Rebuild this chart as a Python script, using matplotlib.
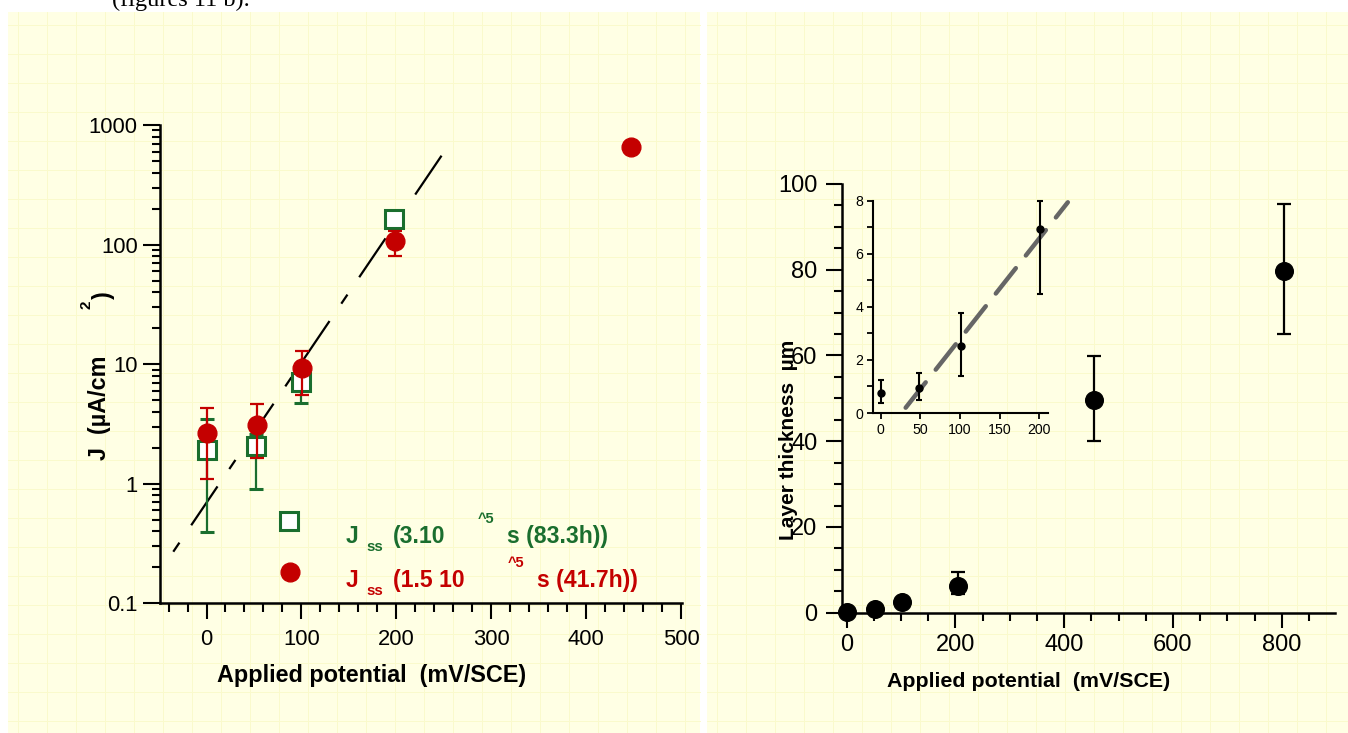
import numpy as np
import matplotlib
matplotlib.use("Agg")
import matplotlib.pyplot as plt
from matplotlib.ticker import MultipleLocator, LogLocator, NullFormatter

plt.rcParams['font.family'] = ['Liberation Sans', 'DejaVu Sans']

W, H = 1348, 733

# ---- left panel data: J vs applied potential ----
green_x = [0, 52, 100, 198]
green_y = [1.91, 2.07, 7.1, 163]
green_lo = [0.394, 0.90, 4.73, 150]
green_hi = [3.47, 2.6, 8.0, 175]

red_x = [0, 53, 101, 199, 447]
red_y = [2.65, 3.1, 9.27, 107, 653]
red_lo = [1.09, 1.64, 5.52, 80, 653]
red_hi = [4.3, 4.64, 12.9, 130, 653]

fit_x = [-35, 253]
fit_y = [0.27, 640]

# ---- right panel data: layer thickness ----
thick_x = [1, 52, 101, 205, 455, 805]
thick_y = [0.2, 0.8, 2.5, 6.2, 49.5, 79.8]
thick_lo = [0.2, 0.8, 2.5, 4.4, 40.1, 64.9]
thick_hi = [0.2, 0.8, 2.5, 9.4, 59.9, 95.3]

inset_x = [0, 48, 101, 201]
inset_y = [0.74, 0.93, 2.54, 6.94]
inset_lo = [0.39, 0.49, 1.4, 4.48]
inset_hi = [1.25, 1.52, 3.76, 8.0]

inset_fit_x = [31.5, 236]
inset_fit_y = [0.2, 7.94]

GREEN = '#1a6e2e'
RED = '#c40000'
BG = '#ffffe4'


def px(x, y):
    return x / W, 1 - y / H


def box(l, t, r, b):
    return [l / W, 1 - b / H, (r - l) / W, (b - t) / H]


fig = plt.figure(figsize=(W / 100, H / 100), dpi=100, facecolor='white')

# background panels with faint grid texture
bg = fig.add_axes([0, 0, 1, 1], zorder=-10)
bg.set_xlim(0, W)
bg.set_ylim(H, 0)
bg.axis('off')
for (l, r) in [(8, 700), (707, 1348)]:
    bg.add_patch(plt.Rectangle((l, 12), r - l, H - 12, facecolor=BG, edgecolor='none'))
    for gx in np.arange(l + 10, r, 29):
        bg.plot([gx, gx], [12, H], color='#fafacc', lw=0.7)
    for gy in np.arange(25, H, 29):
        bg.plot([l, r], [gy, gy], color='#fafacc', lw=0.7)

# caption line from the page above, cut by the crop
fig.text(*px(112, 6), "(figures 11 b).", family='Liberation Serif', fontsize=17.5,
         ha='left', va='baseline')


def style_axes(ax, lw=1.8):
    for s in ['top', 'right']:
        ax.spines[s].set_visible(False)
    for s in ['left', 'bottom']:
        ax.spines[s].set_linewidth(lw)
    ax.patch.set_alpha(0)


# ---------------- left panel ----------------
ax1 = fig.add_axes(box(160, 125, 682, 603.3))
style_axes(ax1)
ax1.set_yscale('log')
ax1.set_xlim(-49, 501)
ax1.set_ylim(0.1, 1000)

ax1.plot(fit_x, fit_y, color='black', lw=1.6,
         linestyle=(0, (7.9 / 1.6, 15.1 / 1.6, 33.8 / 1.6, 15.1 / 1.6)), zorder=2)

gy = np.array(green_y)
ax1.errorbar(green_x, green_y,
             yerr=[gy - np.array(green_lo), np.array(green_hi) - gy],
             fmt='s', ms=12.5, mfc='white', mec=GREEN, mew=2.2, ecolor=GREEN,
             elinewidth=1.6, capsize=4.7, capthick=1.6, zorder=3)
ry = np.array(red_y)
ax1.errorbar(red_x, red_y,
             yerr=[ry - np.array(red_lo), np.array(red_hi) - ry],
             fmt='o', ms=13.5, mfc=RED, mec=RED, ecolor=RED,
             elinewidth=1.6, capsize=4.7, capthick=1.6, zorder=4)

ax1.xaxis.set_major_locator(MultipleLocator(100))
ax1.xaxis.set_minor_locator(MultipleLocator(20))
ax1.yaxis.set_minor_locator(LogLocator(base=10, subs=np.arange(2, 10), numticks=10))
ax1.yaxis.set_minor_formatter(NullFormatter())
ax1.set_yticks([0.1, 1, 10, 100, 1000])
ax1.set_yticklabels(['0.1', '1', '10', '100', '1000'])
ax1.tick_params(axis='both', which='major', direction='out', width=1.5, labelsize=15.8)
ax1.tick_params(axis='y', which='major', length=12, pad=4)
ax1.tick_params(axis='y', which='minor', length=6, width=1.5, direction='out')
ax1.tick_params(axis='x', which='major', length=11.5, pad=7)
ax1.tick_params(axis='x', which='minor', length=6.5, width=1.5, direction='out')

fig.text(*px(372, 681.7), "Applied potential  (mV/SCE)", fontsize=16.8,
         fontweight='bold', ha='center', va='baseline')
fig.text(*px(100, 407.5), "J  (\u00b5A/cm", fontsize=16.8, fontweight='bold',
         rotation=90, ha='center', va='center')
fig.text(*px(87, 305), "2", fontsize=11, fontweight='bold',
         rotation=90, ha='center', va='center')
fig.text(*px(103, 295), ")", fontsize=16.8, fontweight='bold',
         rotation=90, ha='center', va='center')

# legend markers and labels
ax1.plot([0.247], [0.172], 's', ms=12.5, mfc='white', mec=GREEN, mew=2.2,
         transform=ax1.transAxes, clip_on=False)
ax1.plot([0.249], [0.0654], 'o', ms=13.5, mfc=RED, mec=RED,
         transform=ax1.transAxes, clip_on=False)

legend_rows = [
    (GREEN, 543, "(3.10", 478, "s (83.3h))", 506.7),
    (RED, 586.7, "(1.5 10", 508, "s (41.7h))", 536.7),
]
for col, base, mid, sup_x, tail, tail_x in legend_rows:
    fig.text(*px(346, base), "J", color=col, fontsize=16.6, fontweight='bold',
             ha='left', va='baseline')
    fig.text(*px(366, base + 8), "ss", color=col, fontsize=10.8, fontweight='bold',
             ha='left', va='baseline')
    fig.text(*px(393, base), mid, color=col, fontsize=16.6, fontweight='bold',
             ha='left', va='baseline')
    fig.text(*px(sup_x, base - 20), "^5", color=col, fontsize=10.5, fontweight='bold',
             ha='left', va='baseline')
    fig.text(*px(tail_x, base), tail, color=col, fontsize=16.6, fontweight='bold',
             ha='left', va='baseline')

# ---------------- right panel ----------------
ax2 = fig.add_axes(box(841.7, 184, 1335, 612.7))
style_axes(ax2)
ax2.set_xlim(-9, 898)
ax2.set_ylim(0, 100)

ty = np.array(thick_y)
ax2.errorbar(thick_x, thick_y,
             yerr=[ty - np.array(thick_lo), np.array(thick_hi) - ty],
             fmt='o', ms=12.7, color='black', elinewidth=1.6,
             capsize=4.7, capthick=1.6, clip_on=False, zorder=4)

ax2.xaxis.set_major_locator(MultipleLocator(200))
ax2.xaxis.set_minor_locator(MultipleLocator(50))
ax2.yaxis.set_major_locator(MultipleLocator(20))
ax2.yaxis.set_minor_locator(MultipleLocator(5))
ax2.tick_params(axis='both', which='major', direction='out', width=1.5, labelsize=17)
ax2.tick_params(axis='y', which='major', length=11.5, pad=6)
ax2.tick_params(axis='y', which='minor', length=6, width=1.5, direction='out')
ax2.tick_params(axis='x', which='major', length=10.5, pad=5)
ax2.tick_params(axis='x', which='minor', length=5.8, width=1.5, direction='out')

fig.text(*px(1029, 686.7), "Applied potential  (mV/SCE)", fontsize=15.4,
         fontweight='bold', ha='center', va='baseline')
# in the original the label sits over the tick labels
fig.text(*px(788, 440), "Layer thickness  \u00b5m", fontsize=15, fontweight='bold',
         rotation=90, ha='center', va='center')

# inset
ax3 = fig.add_axes(box(873, 200.7, 1048, 413))
style_axes(ax3, lw=1.5)
ax3.set_xlim(-9.7, 211)
ax3.set_ylim(0, 8)
ax3.plot(inset_fit_x, inset_fit_y, color='#666666', lw=3.2,
         linestyle=(0, (32 / 4.4, 16 / 4.4)), dash_capstyle='round',
         clip_on=False, zorder=2)
iy = np.array(inset_y)
ax3.errorbar(inset_x, inset_y,
             yerr=[iy - np.array(inset_lo), np.array(inset_hi) - iy],
             fmt='o', ms=5, color='black', elinewidth=1.5,
             capsize=2, capthick=1.5, clip_on=False, zorder=3)
ax3.xaxis.set_major_locator(MultipleLocator(50))
ax3.yaxis.set_major_locator(MultipleLocator(2))
ax3.yaxis.set_minor_locator(MultipleLocator(1))
ax3.tick_params(axis='both', which='major', direction='out', width=1.3,
                length=4, labelsize=10.2, pad=3)
ax3.tick_params(axis='y', which='minor', direction='out', width=1.3, length=4)

fig.savefig('out.png', dpi=100, facecolor='white')
